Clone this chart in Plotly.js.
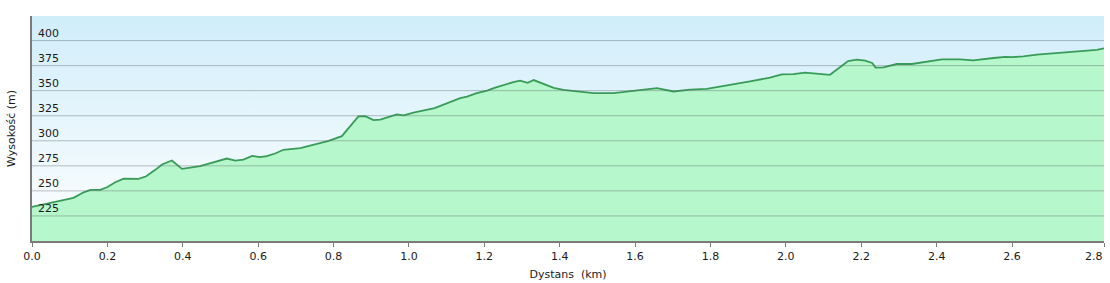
<!DOCTYPE html>
<html>
<head>
<meta charset="utf-8">
<script src="https://cdn.plot.ly/plotly-3.0.1.min.js"></script>
<style>html,body{margin:0;padding:0;background:#fff}#chart{width:1110px;height:283px}</style>
</head>
<body>
<div id="chart"></div>
<script>
const distanceKm = [0.000,0.110,0.137,0.155,0.181,0.199,0.221,0.243,0.283,0.303,0.327,0.345,0.371,0.398,0.446,0.473,0.495,0.517,0.539,0.561,0.584,0.604,0.623,0.645,0.667,0.712,0.756,0.787,0.822,0.866,0.884,0.906,0.924,0.946,0.968,0.986,1.012,1.068,1.136,1.154,1.180,1.207,1.229,1.277,1.295,1.315,1.331,1.384,1.410,1.446,1.490,1.543,1.605,1.658,1.702,1.746,1.790,1.852,1.879,1.905,1.958,1.989,2.020,2.051,2.117,2.165,2.188,2.210,2.229,2.238,2.259,2.294,2.334,2.414,2.462,2.497,2.551,2.582,2.600,2.630,2.666,2.825,2.844];
const elevationM = [234,243,248.6,251,251,253.6,258.6,262.3,262,264.6,271,276.3,280.3,272,274.6,277.6,279.3,282.3,280.3,281.3,285,283.6,284.6,287.3,291,292.6,297,300,304.6,324.3,324.6,320.6,321,323.6,326.3,325.3,328,332.6,342.6,344,347.5,350,353,358.6,360,357.8,360.6,352.8,350.8,349.3,347.5,347.5,350.6,352.6,349.2,351,351.8,355.5,357.3,359.3,363,366.3,366.6,368,365.8,379.6,381,380,377.6,373,373.3,376.6,376.6,381.3,381.3,380.2,382.6,383.8,383.4,384.2,386,390.6,392.3];
const xTickVals = [0,0.2,0.4,0.6,0.8,1.0,1.2,1.4,1.6,1.8,2.0,2.2,2.4,2.6,2.844];
const xTickText = ['0.0','0.2','0.4','0.6','0.8','1.0','1.2','1.4','1.6','1.8','2.0','2.2','2.4','2.6','2.8'];
const yTickVals = [225,250,275,300,325,350,375,400];
const yTickText = ['225','250','275','300','325','350','375','400'];
const xTitle = 'Dystans\u00a0 (km)';
const yTitle = 'Wysokość (m)';

const font = {family: 'DejaVu Sans, Verdana, sans-serif', size: 11, color: '#1a1a1a'};

const gradSvg = '<svg xmlns="http://www.w3.org/2000/svg" width="100" height="100" viewBox="0 0 100 100" preserveAspectRatio="none">' +
  '<defs><linearGradient id="g" x1="0" y1="0" x2="0" y2="1"><stop offset="0" stop-color="#d0edfa"/><stop offset="1" stop-color="#ffffff"/></linearGradient></defs>' +
  '<rect width="100" height="100" fill="url(#g)"/></svg>';

const trace = {
  x: distanceKm, y: elevationM, type: 'scatter', mode: 'lines',
  fill: 'tozeroy', fillcolor: '#b6f8cb',
  line: {color: '#389c58', width: 1.8},
  hoverinfo: 'x+y'
};

const gridShapes = yTickVals.map(v => ({
  type: 'line', xref: 'paper', yref: 'y', x0: 0, x1: 1, y0: v, y1: v,
  line: {color: 'rgba(95,105,110,0.42)', width: 1}, layer: 'above'
}));

const yLabels = yTickVals.map((v, i) => ({
  xref: 'paper', yref: 'y', x: 0, y: v, text: yTickText[i],
  xanchor: 'left', yanchor: 'middle', xshift: 4, yshift: 7,
  showarrow: false, font: font
}));

// last x label sits at the axis end, right-aligned to its tick
const lastIdx = xTickVals.length - 1;
const endLabel = {
  xref: 'x', yref: 'paper', x: xTickVals[lastIdx], y: 0, text: xTickText[lastIdx],
  xanchor: 'right', yanchor: 'middle', yshift: -15, xshift: 1,
  showarrow: false, font: font
};
const shownTickText = xTickText.map((t, i) => i === lastIdx ? '' : t);

const layout = {
  width: 1110, height: 283,
  margin: {l: 32, r: 6, t: 16, b: 42},
  paper_bgcolor: '#ffffff', plot_bgcolor: 'rgba(0,0,0,0)',
  font: font, showlegend: false,
  images: [{source: 'data:image/svg+xml;charset=utf-8,' + encodeURIComponent(gradSvg),
    xref: 'paper', yref: 'paper', x: 0, y: 1, sizex: 1, sizey: 1,
    xanchor: 'left', yanchor: 'top', sizing: 'stretch', layer: 'below'}],
  shapes: gridShapes,
  annotations: yLabels.concat([endLabel]),
  xaxis: {
    range: [0, 2.844], tickvals: xTickVals, ticktext: shownTickText,
    showgrid: false, zeroline: false, showline: true, linecolor: '#7a7a7a', linewidth: 2,
    ticks: 'outside', ticklen: 4, tickcolor: '#7a7a7a', tickwidth: 1,
    tickfont: font, fixedrange: true,
    title: {text: xTitle, font: font, standoff: 8}
  },
  yaxis: {
    range: [200, 424.5], tickvals: yTickVals, showticklabels: false,
    showgrid: false, zeroline: false, showline: true, linecolor: '#7a7a7a', linewidth: 2,
    ticks: '', fixedrange: true,
    title: {text: yTitle, font: font, standoff: 12}
  }
};

Plotly.newPlot('chart', [trace], layout, {displayModeBar: false, staticPlot: true});
</script>
</body>
</html>
